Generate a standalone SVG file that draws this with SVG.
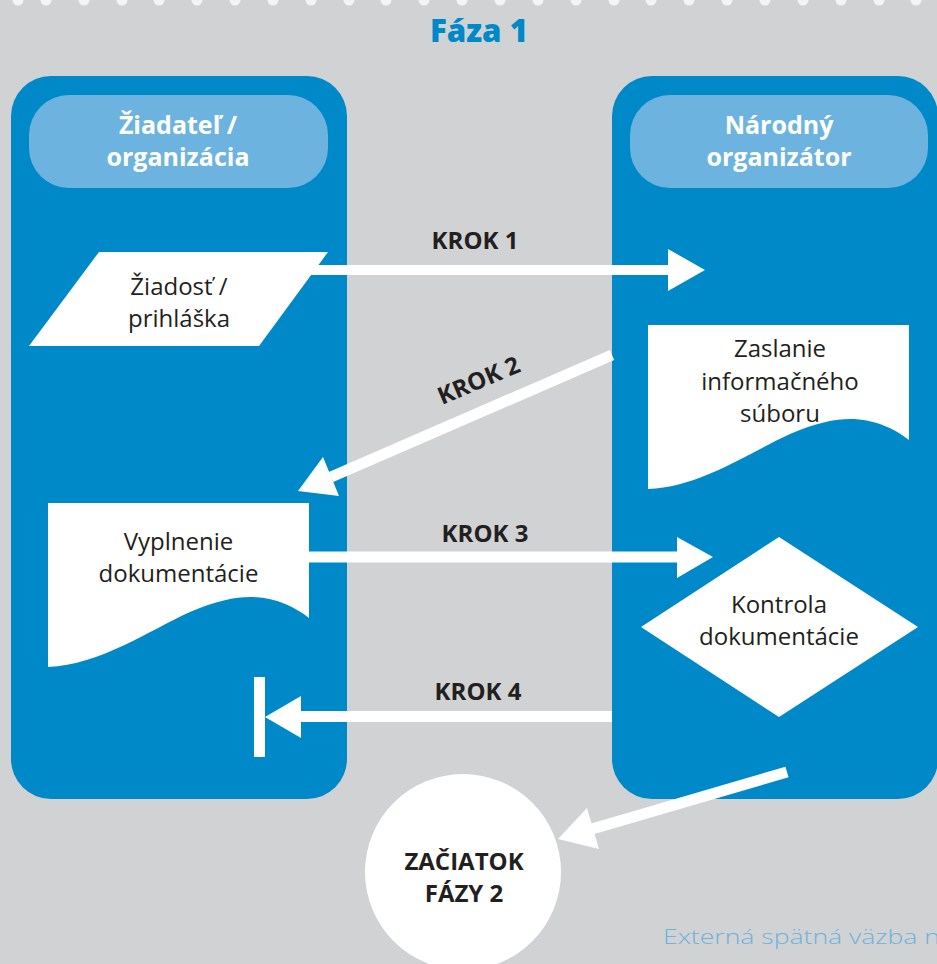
<svg xmlns="http://www.w3.org/2000/svg" width="937" height="964" viewBox="0 0 937 964">
<style>
.lane{fill:#0089c8}
.hdr{fill:#6cb4df}
.shape{fill:#ffffff}
.hdrt{font-family:"Open Sans","Liberation Sans",sans-serif;font-weight:700;font-size:25px;fill:#ffffff;text-anchor:middle}
.body{font-family:"Open Sans","Liberation Sans",sans-serif;font-size:24px;fill:#231f20;text-anchor:middle}
.krok{font-family:"Open Sans","Liberation Sans",sans-serif;font-weight:700;font-size:24px;fill:#231f20;text-anchor:middle}
.conn line{stroke:#ffffff;stroke-width:11;fill:none}
.conn polygon,.conn rect{fill:#ffffff}
.dot{fill:#f4f4f5}
</style>
<defs>
<path id="docShape" d="M0,0 H261 V115 C247,104 227,94 202,94 C187,94 167,98 142,109 C102,127 52,162 0,164 Z"/>
</defs>
<rect x="0" y="0" width="937" height="964" fill="#d1d2d4"/>
<g id="dots">
<circle class="dot" cx="18" cy="0" r="5.5"/>
<circle class="dot" cx="46" cy="0" r="5.5"/>
<circle class="dot" cx="84" cy="0" r="5.5"/>
<circle class="dot" cx="122" cy="0" r="5.5"/>
<circle class="dot" cx="159" cy="0" r="5.5"/>
<circle class="dot" cx="197" cy="0" r="5.5"/>
<circle class="dot" cx="235" cy="0" r="5.5"/>
<circle class="dot" cx="273" cy="0" r="5.5"/>
<circle class="dot" cx="311" cy="0" r="5.5"/>
<circle class="dot" cx="349" cy="0" r="5.5"/>
<circle class="dot" cx="386" cy="0" r="5.5"/>
<circle class="dot" cx="424" cy="0" r="5.5"/>
<circle class="dot" cx="462" cy="0" r="5.5"/>
<circle class="dot" cx="500" cy="0" r="5.5"/>
<circle class="dot" cx="538" cy="0" r="5.5"/>
<circle class="dot" cx="576" cy="0" r="5.5"/>
<circle class="dot" cx="614" cy="0" r="5.5"/>
<circle class="dot" cx="651" cy="0" r="5.5"/>
<circle class="dot" cx="689" cy="0" r="5.5"/>
<circle class="dot" cx="727" cy="0" r="5.5"/>
<circle class="dot" cx="765" cy="0" r="5.5"/>
<circle class="dot" cx="803" cy="0" r="5.5"/>
<circle class="dot" cx="841" cy="0" r="5.5"/>
<circle class="dot" cx="879" cy="0" r="5.5"/>
<circle class="dot" cx="916" cy="0" r="5.5"/>
</g>
<g id="title">
<text x="479" y="42" font-family="'Open Sans','Liberation Sans',sans-serif" font-weight="800" font-size="31" fill="#0089c8" text-anchor="middle" textLength="98" lengthAdjust="spacingAndGlyphs">Fáza 1</text>
</g>
<g id="lane-applicant">
<rect class="lane" x="11" y="76" width="336" height="723" rx="40"/>
<rect class="hdr" x="29" y="95" width="299" height="93" rx="40"/>
<text class="hdrt" x="178" y="134">Žiadateľ /</text>
<text class="hdrt" x="178" y="166">organizácia</text>
</g>
<g id="lane-organizer">
<rect class="lane" x="612" y="76" width="326" height="723" rx="40"/>
<rect class="hdr" x="630" y="95" width="298" height="93" rx="40"/>
<text class="hdrt" x="779" y="134">Národný</text>
<text class="hdrt" x="779" y="166">organizátor</text>
</g>
<g id="node-ziadost">
<polygon class="shape" points="99,252 328,252 259,346 29,346"/>
<text class="body" x="179" y="295">Žiadosť /</text>
<text class="body" x="179" y="327">prihláška</text>
</g>
<g id="node-zaslanie">
<use href="#docShape" class="shape" transform="translate(648,325)"/>
<text class="body" x="780" y="357">Zaslanie</text>
<text class="body" x="780" y="390">informačného</text>
<text class="body" x="780" y="422">súboru</text>
</g>
<g id="node-vyplnenie">
<use href="#docShape" class="shape" transform="translate(48,503)"/>
<text class="body" x="178.5" y="550">Vyplnenie</text>
<text class="body" x="178.5" y="582">dokumentácie</text>
</g>
<g id="node-kontrola">
<polygon class="shape" points="779,537 918,627 779,717 641,627"/>
<text class="body" x="779" y="613">Kontrola</text>
<text class="body" x="779" y="645">dokumentácie</text>
</g>
<g id="node-zaciatok">
<circle class="shape" cx="463" cy="872" r="98"/>
<text class="krok" x="464" y="870">ZAČIATOK</text>
<text class="krok" x="464" y="902">FÁZY 2</text>
</g>
<g id="connectors" class="conn">
<line x1="305" y1="270" x2="669" y2="270" style="stroke-width:10"/>
<polygon points="668,249 705,270 668,291"/>
<line x1="612" y1="355" x2="331" y2="477"/>
<polygon points="298,491 339,496 323,457"/>
<line x1="305" y1="557" x2="678" y2="557"/>
<polygon points="677,537 713,557 677,578"/>
<line x1="612" y1="716.5" x2="300" y2="716.5"/>
<polygon points="301,696 265,717 301,738"/>
<rect x="254" y="677" width="11" height="80"/>
<line x1="787" y1="772" x2="592" y2="829"/>
<polygon points="558,839 587,808 599,849"/>
</g>
<g id="labels">
<text class="krok" x="475" y="249">KROK 1</text>
<text class="krok" x="482" y="388" transform="rotate(-23 482 388)">KROK 2</text>
<text class="krok" x="485" y="542">KROK 3</text>
<text class="krok" x="478" y="700">KROK 4</text>
</g>
<g id="footer">
<text x="663" y="944" font-family="'Open Sans','Liberation Sans',sans-serif" font-weight="300" font-size="21" fill="#6cb2dd" textLength="277" lengthAdjust="spacingAndGlyphs">Externá spätná väzba n</text>
</g>
</svg>
